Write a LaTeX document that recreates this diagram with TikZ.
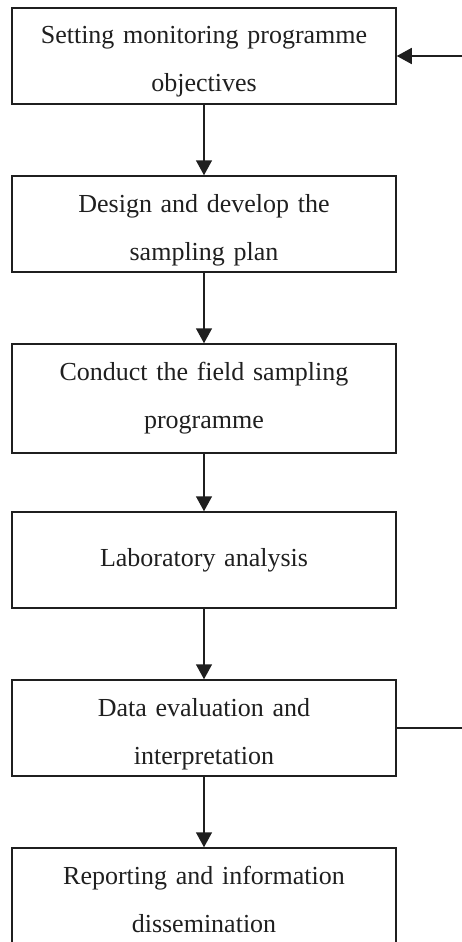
\documentclass[tikz,border=0pt]{standalone}
\usepackage{fontspec}
\setmainfont{Liberation Serif}
\usetikzlibrary{arrows.meta,positioning}

\begin{document}
\begin{tikzpicture}[x=1pt,y=-1pt,font=\fontsize{26}{48}\selectfont,color=black!88,
  stepbox/.style={draw,line width=1.5pt,minimum width=384pt,minimum height=96pt,text width=376pt,align=center,inner sep=0pt},
  drop/.style={execute at begin node={\rule{0pt}{#1}}},
  flow/.style={-{Triangle[length=15pt,width=16pt]},line width=1.5pt}]
\useasboundingbox (0,0) rectangle (462,942);
\node[stepbox,drop=28pt] (obj) at (204,56) {Setting monitoring programme\\objectives};
\node[stepbox,drop=31pt,below=70.5pt of obj] (plan) {Design and develop the\\sampling plan};
\node[stepbox,below=70.5pt of plan,minimum height=109pt] (field) {Conduct the field sampling\\programme};
\node[stepbox,below=57.5pt of field] (lab) {Laboratory analysis};
\node[stepbox,drop=31pt,below=70.5pt of lab] (eval) {Data evaluation and\\interpretation};
\node[stepbox,below=70.5pt of eval,minimum height=102pt] (report) {Reporting and information\\dissemination};
\foreach \a/\b in {obj/plan,plan/field,field/lab,lab/eval,eval/report}
  \draw[flow] (\a) -- (\b);
% feedback ends, the loop runs off the page
\path (obj.east) ++(66,0) coordinate (back);
\path (eval.east) ++(66,0) coordinate (loop);
\draw[flow] (back) -- (obj);
\draw[line width=1.5pt] (eval) -- (loop);
\end{tikzpicture}
\end{document}
